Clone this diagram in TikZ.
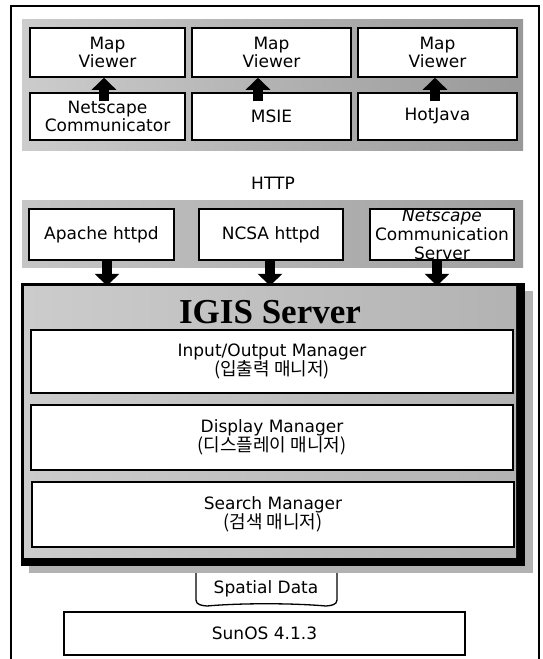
\documentclass[tikz,border=0pt]{standalone}
\usepackage{fontspec}
\setmainfont{DejaVu Sans}
\newfontfamily\kofont{Noto Sans CJK KR}
\newfontfamily\titlefont{Liberation Serif}
\usetikzlibrary{arrows.meta}

\newcommand{\mapviewer}{Map\\Viewer}
\newcommand{\managertext}[2]{#1\\{\kofont\fontsize{18}{18.5}\selectfont (#2)}}

\begin{document}
\begin{tikzpicture}[x=1pt,y=-1pt,font=\fontsize{17}{18.5}\selectfont]

\tikzstyle{box}=[draw,line width=1.5pt,fill=white,inner sep=0pt,align=center]
\tikzstyle{fatarrow}=[line width=10pt,-{Triangle[width=24pt,length=12pt]}]

\useasboundingbox (0,0) rectangle (543,659);
\draw[line width=1.2pt] (11,659) -- (11,6) -- (539,6) -- (539,659);

\shade[left color=gray!40,right color=gray!80] (22,19) rectangle (523,150);
\node[box,minimum width=155pt,minimum height=49pt](v1) at (107.5,52.5){\mapviewer};
\node[box,minimum width=159pt,minimum height=49pt](v2) at (271.5,52.5){\mapviewer};
\node[box,minimum width=159pt,minimum height=49pt](v3) at (437.5,52.5){\mapviewer};
\node[box,minimum width=155pt,minimum height=47pt](b1) at (107.5,116.5){Netscape\\Communicator};
\node[box,minimum width=159pt,minimum height=47pt](b2) at (271.5,116.5){MSIE};
\node[box,minimum width=159pt,minimum height=47pt](b3) at (437.5,116.5){HotJava};
\draw[fatarrow] ([xshift=-3.5pt,yshift=-9pt]b1.north) -- ([xshift=-3.5pt]v1.south);
\draw[fatarrow] ([xshift=-13.5pt,yshift=-9pt]b2.north) -- ([xshift=-13.5pt]v2.south);
\draw[fatarrow] ([xshift=-2.5pt,yshift=-9pt]b3.north) -- ([xshift=-2.5pt]v3.south);

\node(http) at (273,183){HTTP};

\shade[left color=gray!45,right color=gray!75] (22,200) rectangle (523,267);
\node[box,minimum width=145pt,minimum height=51pt](w1) at (101.5,234.5){Apache httpd};
\node[box,minimum width=144pt,minimum height=51pt](w2) at (271,234.5){NCSA httpd};
\node[box,minimum width=144pt,minimum height=51pt,font=\fontsize{17}{19}\selectfont](w3) at (442,234.5){{\itshape Netscape}\\Communication\\Server};

\fill[gray!60] (29,291) rectangle (533,573);
\fill[black] (21,283) rectangle (525,566);
\shade[left color=gray!40,right color=gray!60] (24,286) rectangle (516,557);
\node[minimum width=492pt,minimum height=271pt](ig) at (270,421.5){};
\node[font=\titlefont\bfseries\fontsize{35}{38}\selectfont](t) at (270,312){IGIS Server};
\node[box,minimum width=482pt,minimum height=63pt](io) at (272,361.5){\managertext{Input/Output Manager}{입출력 매니저}};
\node[box,minimum width=482pt,minimum height=65pt](dm) at (272,437.5){\managertext{Display Manager}{디스플레이 매니저}};
\node[box,minimum width=482pt,minimum height=65pt](sm) at (273,514.5){\managertext{Search Manager}{검색 매니저}};

\draw[fatarrow] ([xshift=5.5pt,yshift=2pt]w1.south) -- ([xshift=5.5pt]w1.south |- ig.north);
\draw[fatarrow] ([xshift=-1pt,yshift=2pt]w2.south) -- ([xshift=-1pt]w2.south |- ig.north);
\draw[fatarrow] ([xshift=-5pt,yshift=2pt]w3.south) -- ([xshift=-5pt]w3.south |- ig.north);

\draw[line width=1.3pt] (196,573) -- (196,600) to[out=-90,in=175] (207,606)
  .. controls (240,603) and (292,603) .. (326,606) to[out=5,in=-90] (337,600) -- (337,573);
\node(sd) at (266,589){Spatial Data};

\node[box,minimum width=401pt,minimum height=43pt](os) at (264.5,633.5){SunOS 4.1.3};

\end{tikzpicture}
\end{document}
